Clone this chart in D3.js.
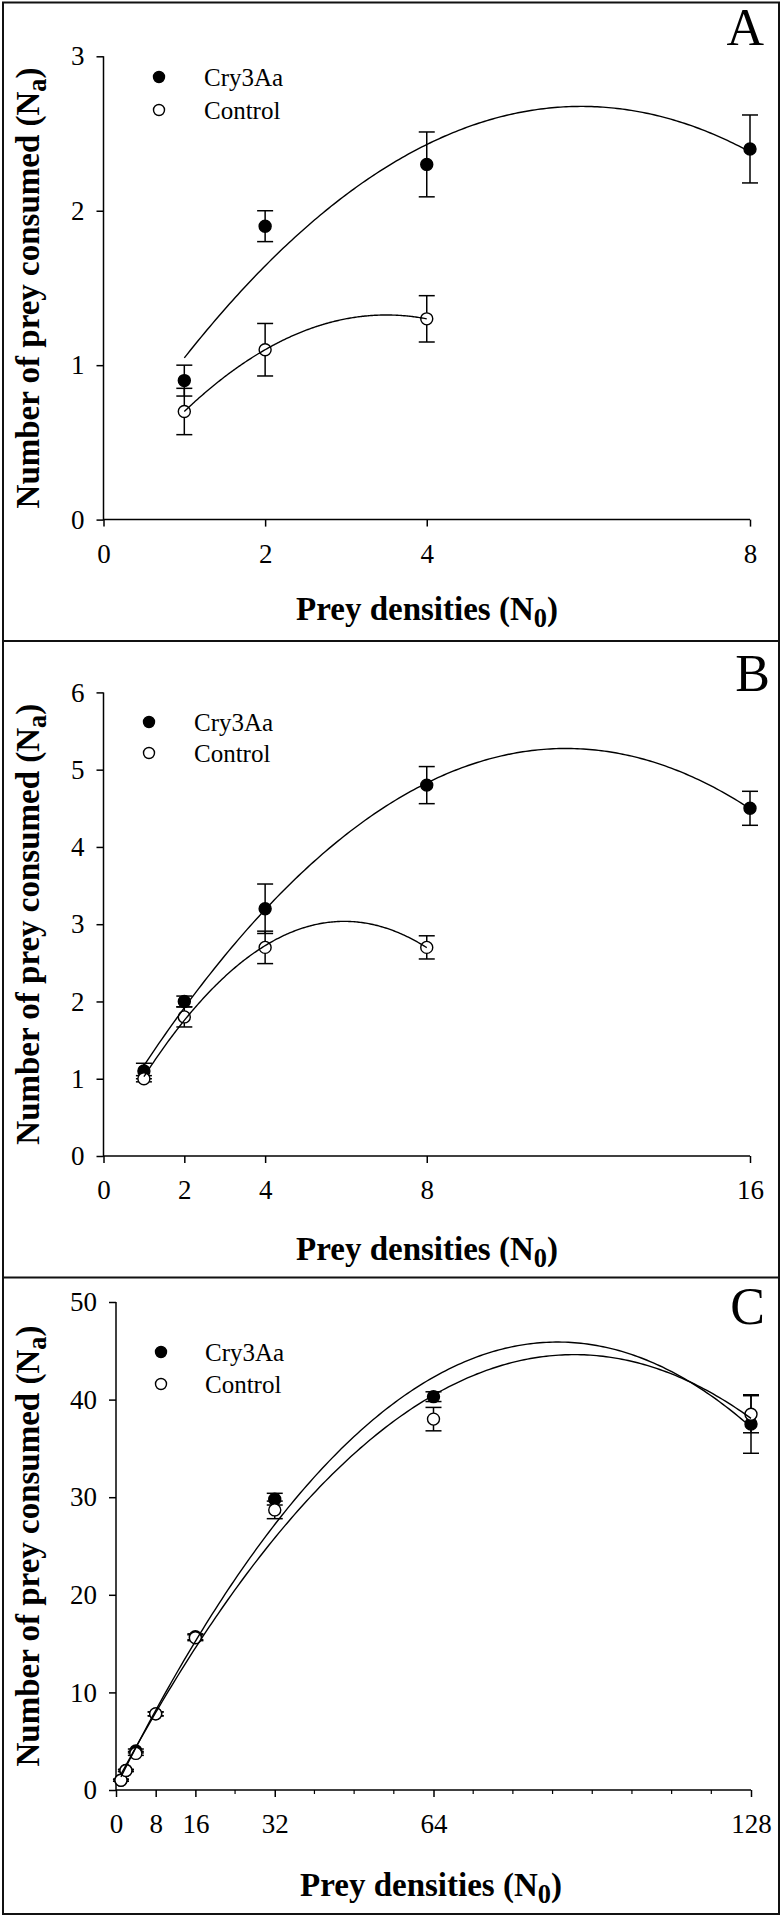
<!DOCTYPE html>
<html><head><meta charset="utf-8">
<script src="https://cdn.jsdelivr.net/npm/d3@7"></script>
<style>
body{margin:0;background:#fff}
svg{display:block}
text{font-family:"Liberation Serif","Times New Roman",serif;fill:#000}
</style>
</head><body>
<svg id="chart" width="784" height="1918"></svg>
<script>
// ---------- DATA ----------
const seriesNames = ["Cry3Aa", "Control"];
const panelLetters = ["A", "B", "C"];

// Panel A
const aCryDensity = [1, 2, 4, 8];
const aCry = [0.9, 1.9, 2.3, 2.4];
const aCryErr = [0.1, 0.1, 0.21, 0.22];
const aCtrlDensity = [1, 2, 4];
const aCtrl = [0.7, 1.1, 1.3];
const aCtrlErr = [0.15, 0.17, 0.15];
const aXTicks = [0, 2, 4, 8];
const aYTicks = [0, 1, 2, 3];

// Panel B
const bCryDensity = [1, 2, 4, 8, 16];
const bCry = [1.1, 2.0, 3.2, 4.8, 4.5];
const bCryErr = [0.1, 0.07, 0.32, 0.24, 0.22];
const bCtrlDensity = [1, 2, 4, 8];
const bCtrl = [1.0, 1.8, 2.7, 2.7];
const bCtrlErr = [0.04, 0.13, 0.21, 0.15];
const bXTicks = [0, 2, 4, 8, 16];
const bYTicks = [0, 1, 2, 3, 4, 5, 6];

// Panel C
const cCryDensity = [1, 2, 4, 8, 16, 32, 64, 128];
const cCry = [1.0, 2.0, 4.0, 7.8, 15.7, 29.8, 40.3, 37.5];
const cCryErr = [0.1, 0.1, 0.2, 0.2, 0.3, 0.6, 0.5, 3.0];
const cCtrlDensity = [1, 2, 4, 8, 16, 32, 64, 128];
const cCtrl = [1.0, 2.0, 3.75, 7.8, 15.6, 28.7, 38.0, 38.5];
const cCtrlErr = [0.1, 0.1, 0.2, 0.2, 0.3, 0.9, 1.2, 1.9];
const cXTicks = [0, 8, 16, 32, 64, 128];
const cXMinorTicks = [24, 40, 48, 56, 72, 80, 88, 96, 104, 112, 120];
const cYTicks = [0, 10, 20, 30, 40, 50];

// ---------- LAYOUT ----------
const svg = d3.select("#chart");
const FONT_TICK = 27, FONT_TITLE = 33, FONT_LEG = 25, FONT_LETTER = 52;

const panels = [
  { letter: panelLetters[0], xDom: [0, 8], xRange: [103.5, 750], yDom: [0, 3], yRange: [519.6, 56.3], axisLeft: 103.5,
    xTicks: aXTicks, xMinor: [], yTicks: aYTicks,
    cry: [aCryDensity, aCry, aCryErr], ctrl: [aCtrlDensity, aCtrl, aCtrlErr],
    leg: { x: 159, y: 77, dy: 33, tx: 204 }, letterPos: [764, 45], titleDy: 100, titleX: 427 },
  { letter: panelLetters[1], xDom: [0, 16], xRange: [103.5, 750], yDom: [0, 6], yRange: [1156, 692.4], axisLeft: 103.5,
    xTicks: bXTicks, xMinor: [], yTicks: bYTicks,
    cry: [bCryDensity, bCry, bCryErr], ctrl: [bCtrlDensity, bCtrl, bCtrlErr],
    leg: { x: 149, y: 722, dy: 31, tx: 194 }, letterPos: [770, 691], titleDy: 104, titleX: 427 },
  { letter: panelLetters[2], xDom: [0, 128], xRange: [116, 751], yDom: [0, 50], yRange: [1790, 1302], axisLeft: 116,
    xTicks: cXTicks, xMinor: cXMinorTicks, yTicks: cYTicks,
    cry: [cCryDensity, cCry, cCryErr], ctrl: [cCtrlDensity, cCtrl, cCtrlErr],
    leg: { x: 161, y: 1352, dy: 32, tx: 205 }, letterPos: [765, 1324], titleDy: 106, titleX: 431 }
];

// least-squares quadratic fit (as produced by the original plotting software)
function quadFit(xs, ys) {
  let S = [0, 0, 0, 0, 0], T = [0, 0, 0];
  xs.forEach((x, i) => {
    for (let k = 0; k < 5; k++) S[k] += Math.pow(x, k);
    for (let k = 0; k < 3; k++) T[k] += Math.pow(x, k) * ys[i];
  });
  const M = [[S[0], S[1], S[2], T[0]], [S[1], S[2], S[3], T[1]], [S[2], S[3], S[4], T[2]]];
  for (let i = 0; i < 3; i++) {
    for (let j = i + 1; j < 3; j++) {
      const f = M[j][i] / M[i][i];
      for (let k = i; k < 4; k++) M[j][k] -= f * M[i][k];
    }
  }
  const c = [0, 0, 0];
  for (let i = 2; i >= 0; i--) {
    let s = M[i][3];
    for (let k = i + 1; k < 3; k++) s -= M[i][k] * c[k];
    c[i] = s / M[i][i];
  }
  return x => c[0] + c[1] * x + c[2] * x * x;
}

// ---------- FRAME ----------
svg.append("rect").attr("x", 3).attr("y", 2.5).attr("width", 776).attr("height", 1911.5)
  .attr("fill", "none").attr("stroke", "#111").attr("stroke-width", 2);
[641, 1277.5].forEach(y => svg.append("line").attr("x1", 3).attr("x2", 779).attr("y1", y).attr("y2", y)
  .attr("stroke", "#111").attr("stroke-width", 2));

// ---------- PANELS ----------
panels.forEach(p => {
  const g = svg.append("g");
  const x = d3.scaleLinear().domain(p.xDom).range(p.xRange);
  const y = d3.scaleLinear().domain(p.yDom).range(p.yRange);
  const y0 = y(p.yDom[0]);

  // y axis
  const yAx = g.append("g").attr("transform", `translate(${p.axisLeft},0)`)
    .call(d3.axisLeft(y).tickValues(p.yTicks).tickSize(7).tickPadding(12).tickFormat(d3.format("d")));
  // x axis
  const xAx = g.append("g").attr("transform", `translate(0,${y0})`)
    .call(d3.axisBottom(x).tickValues(p.xTicks).tickSize(7).tickPadding(17).tickFormat(d3.format("d")));
  [yAx, xAx].forEach(a => {
    a.select(".domain").remove();
    a.selectAll("line").attr("stroke", "#000").attr("stroke-width", 1.5);
    a.selectAll("text").attr("font-size", FONT_TICK).attr("font-family", '"Liberation Serif",serif').attr("fill", "#000");
  });
  xAx.selectAll("text").attr("dy", "0.72em");
  if (p.xMinor.length) {
    xAx.selectAll(".minor").data(p.xMinor).enter().append("line")
      .attr("x1", d => x(d)).attr("x2", d => x(d)).attr("y1", 0).attr("y2", 4)
      .attr("stroke", "#000").attr("stroke-width", 1.2);
  }
  // axis lines
  g.append("line").attr("x1", p.axisLeft).attr("x2", p.axisLeft).attr("y1", y(p.yDom[1])).attr("y2", y0 + 0.75)
    .attr("stroke", "#000").attr("stroke-width", 1.5);
  g.append("line").attr("x1", p.axisLeft).attr("x2", x(p.xDom[1])).attr("y1", y0).attr("y2", y0)
    .attr("stroke", "#000").attr("stroke-width", 1.5);

  // series: Cry3Aa (filled) first, then Control (open) on top
  const series = [{ d: p.cry, fill: "#000" }, { d: p.ctrl, fill: "#fff" }];
  series.forEach(s => {
    const [xs, ys, es] = s.d;
    const pts = xs.map((xv, i) => ({ x: xv, y: ys[i], e: es[i] }));
    const eb = g.append("g");
    pts.forEach(pt => {
      const cx = x(pt.x), yt = y(pt.y + pt.e), yb = y(pt.y - pt.e);
      eb.append("line").attr("x1", cx).attr("x2", cx).attr("y1", yt).attr("y2", yb).attr("stroke", "#000").attr("stroke-width", 1.5);
      [yt, yb].forEach(yy => eb.append("line").attr("x1", cx - 8).attr("x2", cx + 8).attr("y1", yy).attr("y2", yy)
        .attr("stroke", "#000").attr("stroke-width", 1.5));
    });
    g.append("g").selectAll("circle").data(pts).enter().append("circle")
      .attr("cx", d => x(d.x)).attr("cy", d => y(d.y)).attr("r", 6)
      .attr("fill", s.fill).attr("stroke", "#000").attr("stroke-width", 1.4);
  });
  // fitted curves on top
  series.forEach(s => {
    const [xs, ys] = s.d;
    const f = quadFit(xs, ys);
    const lo = d3.min(xs), hi = d3.max(xs);
    const samples = d3.range(0, 201).map(i => lo + (hi - lo) * i / 200);
    g.append("path").attr("d", d3.line().x(v => x(v)).y(v => y(f(v)))(samples))
      .attr("fill", "none").attr("stroke", "#000").attr("stroke-width", 1.4);
  });

  // legend
  seriesNames.forEach((name, i) => {
    const ly = p.leg.y + i * p.leg.dy;
    g.append("circle").attr("cx", p.leg.x).attr("cy", ly).attr("r", 5.5)
      .attr("fill", i === 0 ? "#000" : "#fff").attr("stroke", "#000").attr("stroke-width", 1.4);
    g.append("text").attr("x", p.leg.tx).attr("y", ly).attr("dy", "0.35em")
      .attr("font-size", FONT_LEG).text(name);
  });

  // axis titles
  const xt = g.append("text").attr("x", p.titleX).attr("y", y0 + p.titleDy).attr("text-anchor", "middle")
    .attr("font-size", FONT_TITLE).attr("font-weight", "bold");
  xt.append("tspan").text("Prey densities (N");
  xt.append("tspan").attr("font-size", FONT_TITLE * 0.8).attr("dy", 7).text("0");
  xt.append("tspan").attr("dy", -7).text(")");

  const yc = (y(p.yDom[0]) + y(p.yDom[1])) / 2;
  const yt = g.append("text").attr("transform", `translate(39,${yc}) rotate(-90)`).attr("text-anchor", "middle")
    .attr("font-size", FONT_TITLE).attr("font-weight", "bold");
  yt.append("tspan").text("Number of prey consumed (N");
  yt.append("tspan").attr("font-size", FONT_TITLE * 0.8).attr("dy", 7).text("a");
  yt.append("tspan").attr("dy", -7).text(")");

  // panel letter
  g.append("text").attr("x", p.letterPos[0]).attr("y", p.letterPos[1]).attr("text-anchor", "end")
    .attr("font-size", FONT_LETTER).text(p.letter);
});
</script>
</body></html>
